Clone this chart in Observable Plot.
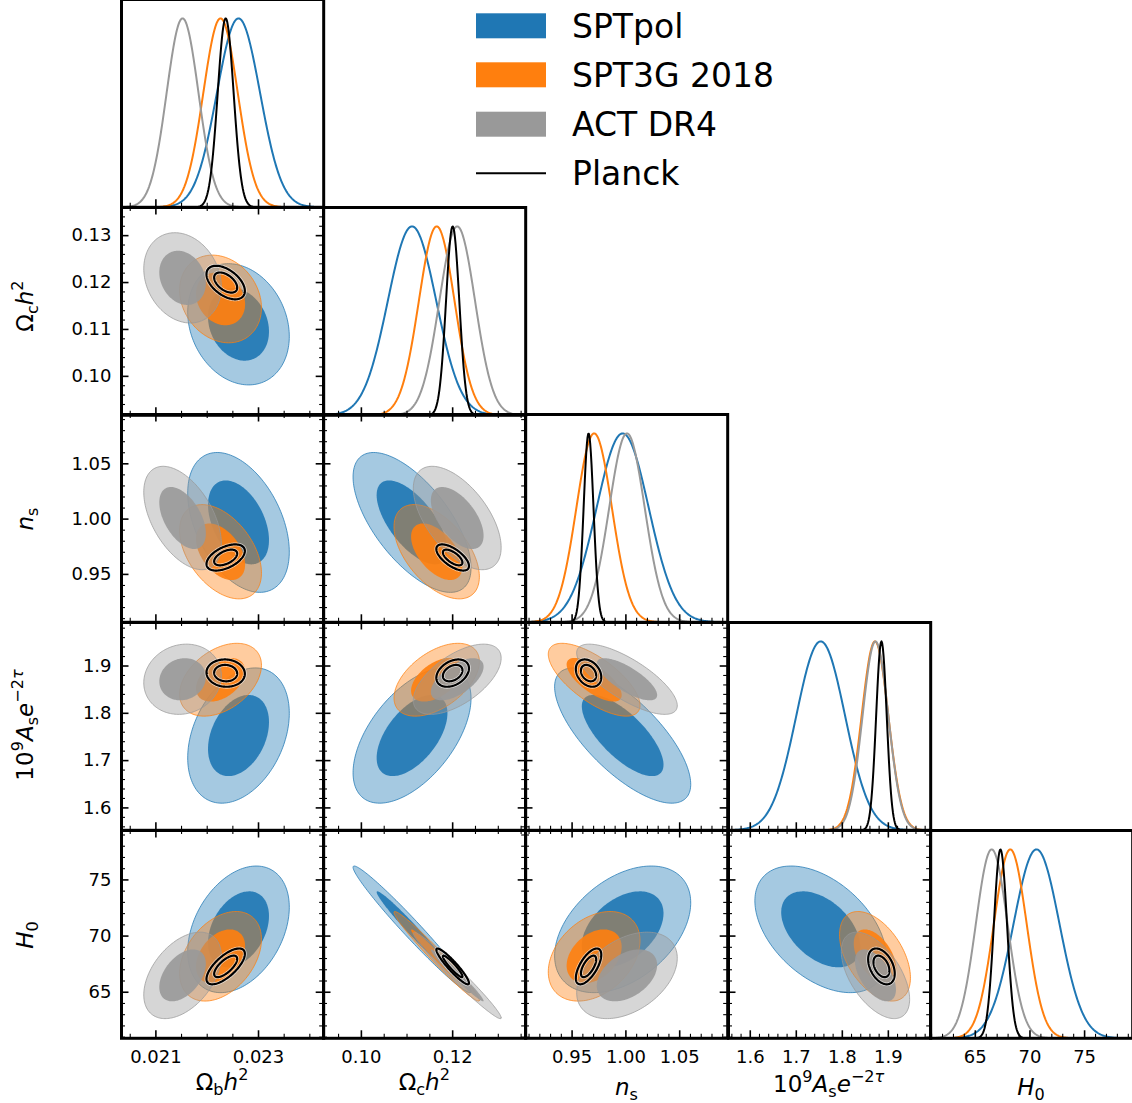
<!DOCTYPE html>
<html><head><meta charset="utf-8">
<script src="https://cdn.jsdelivr.net/npm/d3@7"></script>
<script src="https://cdn.jsdelivr.net/npm/@observablehq/plot@0.6"></script>
<style>
html,body{margin:0;padding:0;background:#fff;}
#fig{position:relative;width:1132px;height:1103px;overflow:hidden;background:#fff;font-family:"DejaVu Sans",sans-serif;}
#fig svg{position:absolute;}
</style></head><body><div id="fig"></div>
<script>
// ---------------- data ----------------
const paramLabels = ["Ωbh²", "Ωch²", "ns", "10⁹Ase⁻²τ", "H0"];
const datasets = ["SPTpol", "SPT3G 2018", "ACT DR4", "Planck"];
const datasetColors = ["#1f77b4", "#ff7f0e", "#999999", "#000000"];

// posterior means  [Ωbh², Ωch², ns, 10^9 As e^-2τ, H0]
const meanSPTpol = [0.02261, 0.1111, 0.9970, 1.753, 70.6];
const meanSPT3G  = [0.02226, 0.1165, 0.9705, 1.871, 68.2];
const meanACT    = [0.02152, 0.1210, 1.0010, 1.872, 66.5];
const meanPlanck = [0.02236, 0.1200, 0.9653, 1.885, 67.3];
// widths of the 1D marginal curves
const width1dSPTpol = [0.000420, 0.0053, 0.0242, 0.053, 2.10];
const width1dSPT3G  = [0.000335, 0.0039, 0.0165, 0.029, 1.50];
const width1dACT    = [0.000310, 0.0039, 0.0165, 0.028, 1.45];
const width1dPlanck = [0.000155, 0.00145, 0.0046, 0.0115, 0.60];
// widths of the 2D contours
const sigmaSPTpol = [0.000360, 0.0047, 0.0230, 0.052, 2.05];
const sigmaSPT3G  = [0.000290, 0.0034, 0.0155, 0.028, 1.45];
const sigmaACT    = [0.000275, 0.0035, 0.0170, 0.027, 1.40];
const sigmaPlanck = [0.000136, 0.0013, 0.0043, 0.0105, 0.58];
// correlation coefficients for parameter pairs
const pairs = [[0,1],[0,2],[0,3],[0,4],[1,2],[1,3],[1,4],[2,3],[2,4],[3,4]];
const corrSPTpol = [-0.20, -0.42,  0.33, 0.35, -0.65, 0.55, -0.98, -0.72, 0.42, -0.45];
const corrSPT3G  = [-0.20, -0.45,  0.40, 0.38, -0.53, 0.50, -0.98, -0.70, 0.35, -0.48];
const corrACT    = [-0.20, -0.50,  0.10, 0.45, -0.57, 0.60, -0.98, -0.75, 0.40, -0.55];
const corrPlanck = [-0.50,  0.50, -0.05, 0.70, -0.65, 0.35, -0.93, -0.30, 0.65, -0.40];
// contour radii (in sigma units) for the 68% and 95% regions
const contourRadii = [1.65, 2.75];

// axis ranges
const domOmbh2 = [0.02033, 0.02427];
const domOmch2 = [0.0917, 0.1360];
const domNs    = [0.9067, 1.0946];
const domAs    = [1.5527, 1.992];
const domH0    = [60.9, 79.4];

// ticks
const ticksOmbh2 = [0.021, 0.023];            const labelsOmbh2 = ["0.021", "0.023"];
const xTicksOmch2 = [0.10, 0.12];             const xLabelsOmch2 = ["0.10", "0.12"];
const yTicksOmch2 = [0.10, 0.11, 0.12, 0.13]; const yLabelsOmch2 = ["0.10", "0.11", "0.12", "0.13"];
const ticksNs = [0.95, 1.00, 1.05];           const labelsNs = ["0.95", "1.00", "1.05"];
const ticksAs = [1.6, 1.7, 1.8, 1.9];         const labelsAs = ["1.6", "1.7", "1.8", "1.9"];
const ticksH0 = [65, 70, 75];                 const labelsH0 = ["65", "70", "75"];
const xMinorSteps = [0.0005, 0.005, 0.01, 0.02, 1];
const yMinorSteps = [null, 0.002, 0.01, 0.02, 1];

// ---------------- assembly ----------------
const means = [meanSPTpol, meanSPT3G, meanACT, meanPlanck];
const widths1d = [width1dSPTpol, width1dSPT3G, width1dACT, width1dPlanck];
const sigmas = [sigmaSPTpol, sigmaSPT3G, sigmaACT, sigmaPlanck];
const corrs = [corrSPTpol, corrSPT3G, corrACT, corrPlanck];
const domains = [domOmbh2, domOmch2, domNs, domAs, domH0];
const xMajor = [ticksOmbh2, xTicksOmch2, ticksNs, ticksAs, ticksH0];
const xMajorLabels = [labelsOmbh2, xLabelsOmch2, labelsNs, labelsAs, labelsH0];
const yMajor = [null, yTicksOmch2, ticksNs, ticksAs, ticksH0];
const yMajorLabels = [null, yLabelsOmch2, labelsNs, labelsAs, labelsH0];

const colLeft = [121, 323.2, 525.4, 727.6, 929.8], colW = 202.2;
const rowTop = [-1.3, 206.5, 414.3, 622.1, 829.9], rowH = 207.8;
const majLen = 7.5, minLen = 4;
const fig = document.getElementById("fig");

function minorTicks(dom, step, majors) {
  const out = [];
  const a = Math.ceil(dom[0] / step - 1e-9), b = Math.floor(dom[1] / step + 1e-9);
  for (let k = a; k <= b; k++) {
    const v = +(k * step).toFixed(8);
    if (!majors.some(m => Math.abs(m - v) < step * 1e-3)) out.push(v);
  }
  return out;
}
function ellipse(mx, my, sx, sy, rho, r) {
  const c = Math.sqrt(1 - rho * rho), n = 160;
  return d3.range(n).map(k => {
    const t = 2 * Math.PI * k / n;
    return {x: mx + r * sx * Math.cos(t), y: my + r * sy * (rho * Math.cos(t) + c * Math.sin(t))};
  });
}
function gauss(dom, mu, s) {
  const n = 300;
  return d3.range(n + 1).map(k => {
    const x = dom[0] + (dom[1] - dom[0]) * k / n;
    return {x, y: Math.exp(-0.5 * ((x - mu) / s) ** 2)};
  });
}

function panel(i, j) {
  const marks = [];
  const diag = i === j;
  if (diag) {
    for (let d = 0; d < 4; d++) {
      marks.push(Plot.line(gauss(domains[j], means[d][j], widths1d[d][j]),
        {x: "x", y: "y", stroke: datasetColors[d], strokeWidth: 2, clip: true}));
    }
  } else {
    const p = pairs.findIndex(([a, b]) => a === j && b === i);
    for (let d = 0; d < 4; d++) {
      const rho = corrs[d][p];
      const args = [means[d][j], means[d][i], sigmas[d][j], sigmas[d][i], rho];
      const inner = ellipse(...args, contourRadii[0]);
      const outer = ellipse(...args, contourRadii[1]);
      const col = datasetColors[d];
      if (d < 3) {
        marks.push(Plot.line(outer, {x: "x", y: "y", curve: "linear-closed", fill: col, fillOpacity: 0.4,
          stroke: col, strokeOpacity: 0.75, strokeWidth: 1, clip: true}));
        marks.push(Plot.line(inner, {x: "x", y: "y", curve: "linear-closed", fill: col, fillOpacity: 0.9,
          stroke: "none", clip: true}));
      } else {
        for (const e of [outer, inner])
          marks.push(Plot.line(e, {x: "x", y: "y", curve: "linear-closed", fill: "none",
            stroke: "white", strokeOpacity: 0.6, strokeWidth: 3.8, clip: true}));
        for (const e of [outer, inner])
          marks.push(Plot.line(e, {x: "x", y: "y", curve: "linear-closed", fill: "none",
            stroke: "black", strokeWidth: 2.2, clip: true}));
      }
    }
  }
  // x ticks (bottom always, top for off-diagonal)
  const xm = xMajor[j], xn = minorTicks(domains[j], xMinorSteps[j], xm);
  marks.push(Plot.tickX(xm, {x: d => d, insetTop: rowH - majLen, stroke: "black", strokeWidth: 1.6}));
  marks.push(Plot.tickX(xn, {x: d => d, insetTop: rowH - minLen, stroke: "black", strokeWidth: 1.1}));
  if (!diag) {
    marks.push(Plot.tickX(xm, {x: d => d, insetBottom: rowH - majLen, stroke: "black", strokeWidth: 1.6}));
    marks.push(Plot.tickX(xn, {x: d => d, insetBottom: rowH - minLen, stroke: "black", strokeWidth: 1.1}));
    const ym = yMajor[i], yn = minorTicks(domains[i], yMinorSteps[i], ym);
    marks.push(Plot.tickY(ym, {y: d => d, insetRight: colW - majLen, stroke: "black", strokeWidth: 1.6}));
    marks.push(Plot.tickY(yn, {y: d => d, insetRight: colW - minLen, stroke: "black", strokeWidth: 1.1}));
    marks.push(Plot.tickY(ym, {y: d => d, insetLeft: colW - majLen, stroke: "black", strokeWidth: 1.6}));
    marks.push(Plot.tickY(yn, {y: d => d, insetLeft: colW - minLen, stroke: "black", strokeWidth: 1.1}));
    if (j === 0) {
      const labs = yMajorLabels[i];
      marks.push(Plot.text(ym, {y: d => d, text: (d, k) => labs[k], frameAnchor: "left", textAnchor: "end",
        dx: -10, fontSize: 18, fill: "black"}));
    }
  }
  if (i === 4) {
    const labs = xMajorLabels[j];
    marks.push(Plot.text(xm, {x: d => d, text: (d, k) => labs[k], frameAnchor: "bottom", lineAnchor: "top",
      dy: 11.5, fontSize: 18, fill: "black"}));
  }
  marks.push(Plot.frame({stroke: "black", strokeWidth: 3}));
  const svg = Plot.plot({
    width: colW, height: rowH, margin: 0,
    x: {domain: domains[j], axis: null},
    y: {domain: diag ? [0, 1.1] : domains[i], axis: null},
    style: {overflow: "visible", background: "transparent", fontFamily: "DejaVu Sans", maxWidth: "none"},
    marks
  });
  svg.style.left = colLeft[j] + "px";
  svg.style.top = rowTop[i] + "px";
  fig.appendChild(svg);
}

for (let i = 0; i < 5; i++) for (let j = 0; j <= i; j++) panel(i, j);

// ---------------- axis labels and legend ----------------
const axisLabelSegs = [
  [["Ω","n"],["b","sub"],["h","i"],["2","sup"]],
  [["Ω","n"],["c","sub"],["h","i"],["2","sup"]],
  [["n","i"],["s","sub"]],
  [["10","n"],["9","sup"],["A","i"],["s","sub"],["e","i"],["−2","sup"],["τ","supi"]],
  [["H","i"],["0","sub"]]
];
const overlay = d3.select(fig).append("svg")
  .attr("width", 1132).attr("height", 1103).style("left", "0px").style("top", "0px")
  .style("font-family", "DejaVu Sans");

function mathText(g, segs, F) {
  const t = g.append("text").attr("text-anchor", "middle").attr("font-size", F).attr("fill", "black");
  let shift = 0;
  for (const [s, kind] of segs) {
    const sub = kind === "sub", sup = kind === "sup" || kind === "supi";
    const target = sub ? 0.22 * F : sup ? -0.45 * F : 0;
    const ts = t.append("tspan").text(s).attr("dy", target - shift);
    if (sub || sup) ts.attr("font-size", 0.7 * F);
    if (kind === "i" || kind === "supi") ts.attr("font-style", "italic");
    shift = target;
  }
  return t;
}
const LF = 23;
const xLabelBase = [1090, 1090, 1095, 1092, 1095];
for (let j = 0; j < 5; j++) {
  const g = overlay.append("g").attr("transform", `translate(${colLeft[j] + colW / 2},${xLabelBase[j]})`);
  mathText(g, axisLabelSegs[j], LF);
}
const yLabelCenter = [null, 306, 519, 725, 935];
for (let i = 1; i < 5; i++) {
  const g = overlay.append("g").attr("transform", `translate(33,${yLabelCenter[i]}) rotate(-90)`);
  mathText(g, axisLabelSegs[i], LF);
}

const legY = [25.8, 74.8, 124.2, 173.3];
datasets.forEach((name, k) => {
  if (k < 3) {
    overlay.append("rect").attr("x", 476).attr("y", legY[k] - 12.5).attr("width", 70).attr("height", 25)
      .attr("fill", datasetColors[k]);
  } else {
    overlay.append("line").attr("x1", 476).attr("x2", 546).attr("y1", legY[k]).attr("y2", legY[k])
      .attr("stroke", "black").attr("stroke-width", 2);
  }
  overlay.append("text").attr("x", 572).attr("y", legY[k] + 12).attr("font-size", 33)
    .attr("fill", "black").text(name);
});
</script></body></html>
